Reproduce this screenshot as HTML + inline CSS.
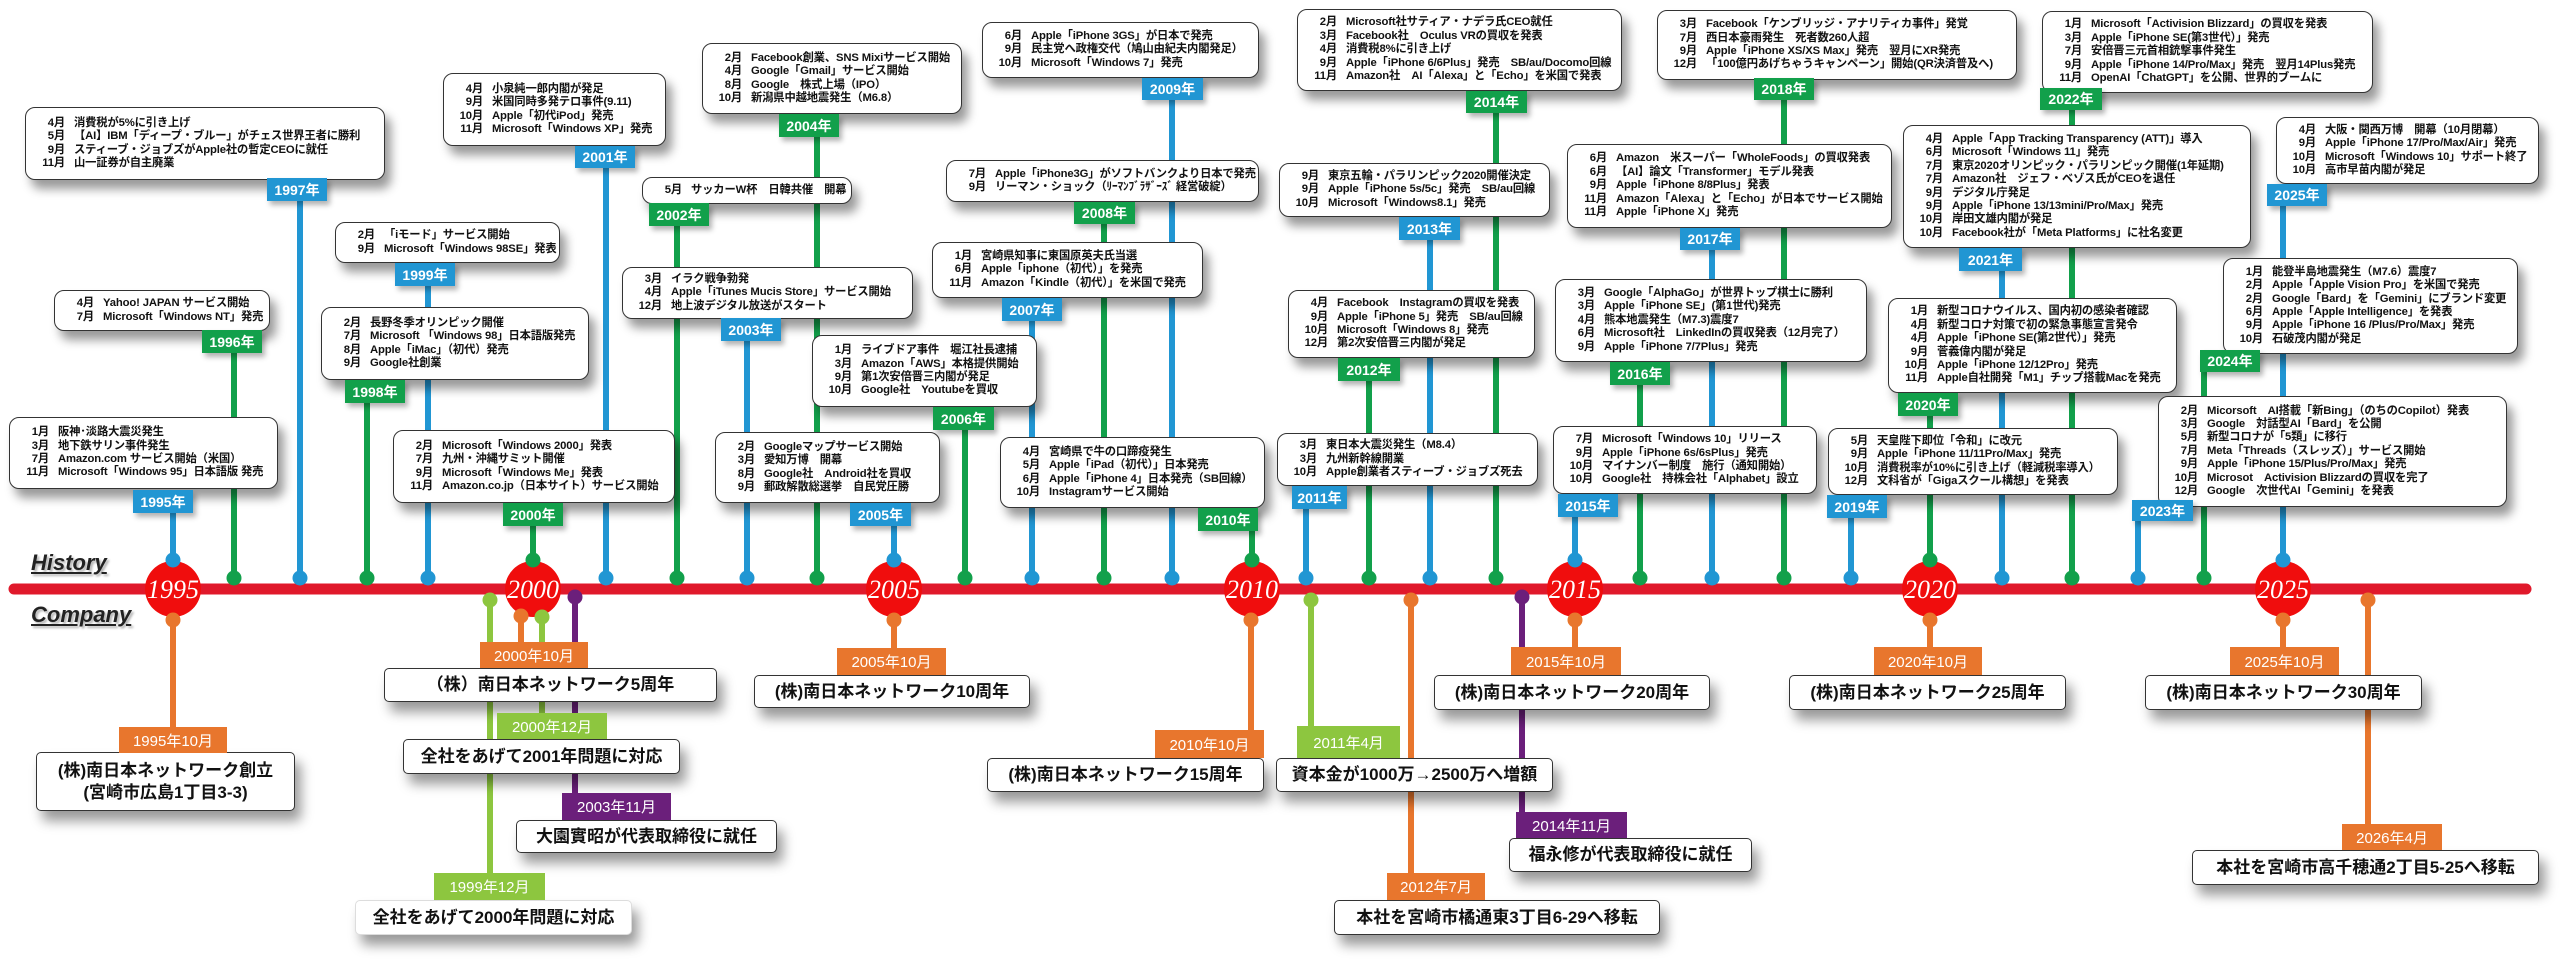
<!DOCTYPE html>
<html><head><meta charset="utf-8">
<style>
html,body{margin:0;padding:0;background:#fff;}
#w{position:relative;width:2560px;height:974px;overflow:hidden;background:#fff;}
svg{position:absolute;left:0;top:0;}
.b{position:absolute;background:#fff;border:1.5px solid #333;border-radius:10px;box-shadow:6px 9px 10px rgba(0,0,0,.4);display:flex;flex-direction:column;justify-content:center;font:bold 11.3px/13.4px "Liberation Sans","Noto Sans CJK JP",sans-serif;letter-spacing:-0.15px;color:#111;white-space:nowrap;box-sizing:border-box;padding-left:8px;overflow:hidden;}
.b span{display:inline-block;width:31px;text-align:right;margin-right:9px;}
.t{position:absolute;color:#fff;font:bold 14px "Liberation Sans","Noto Sans CJK JP",sans-serif;display:flex;align-items:center;justify-content:center;box-shadow:3px 4px 5px rgba(0,0,0,.3);}
.bl{background:#2196d3;}.gr{background:#12a04b;}
.c{position:absolute;background:#fff;border:1.5px solid #333;border-radius:5px;box-shadow:6px 10px 12px rgba(0,0,0,.4);display:flex;flex-direction:column;align-items:center;justify-content:center;font:bold 17px/22px "Liberation Sans","Noto Sans CJK JP",sans-serif;color:#111;white-space:nowrap;box-sizing:border-box;}
.ct{position:absolute;color:#fff;font:15px "Liberation Sans","Noto Sans CJK JP",sans-serif;display:flex;align-items:center;justify-content:center;}
.or{background:#e8762d;}.lg{background:#8dc63f;}.pu{background:#6b1f7b;}
.lab{position:absolute;font:bold italic 22px "Liberation Sans",sans-serif;text-decoration:underline;color:#222;text-shadow:2px 2px 2px rgba(0,0,0,.3);}
</style></head><body><div id="w">
<svg width="2560" height="974" viewBox="0 0 2560 974">
<g stroke-width="6">
<g stroke="#2196d3">
<line x1="173" y1="512" x2="173" y2="560"/><line x1="300" y1="200" x2="300" y2="578"/><line x1="428" y1="285" x2="428" y2="578"/><line x1="606" y1="167" x2="606" y2="578"/><line x1="747" y1="340" x2="747" y2="578"/><line x1="894" y1="525" x2="894" y2="560"/><line x1="1032" y1="320" x2="1032" y2="578"/><line x1="1172" y1="99" x2="1172" y2="578"/><line x1="1306" y1="508" x2="1306" y2="578"/><line x1="1430" y1="239" x2="1430" y2="578"/><line x1="1575" y1="516" x2="1575" y2="560"/><line x1="1712" y1="249" x2="1712" y2="578"/><line x1="1851" y1="517" x2="1851" y2="578"/><line x1="2002" y1="270" x2="2002" y2="578"/><line x1="2138" y1="519" x2="2138" y2="578"/><line x1="2283" y1="205" x2="2283" y2="560"/>
</g>
<g stroke="#12a04b">
<line x1="234" y1="352" x2="234" y2="578"/><line x1="367" y1="402" x2="367" y2="578"/><line x1="533" y1="525" x2="533" y2="560"/><line x1="677" y1="225" x2="677" y2="578"/><line x1="817" y1="136" x2="817" y2="578"/><line x1="965" y1="430" x2="965" y2="578"/><line x1="1104" y1="223" x2="1104" y2="578"/><line x1="1252" y1="530" x2="1252" y2="560"/><line x1="1369" y1="380" x2="1369" y2="578"/><line x1="1496" y1="112" x2="1496" y2="578"/><line x1="1640" y1="384" x2="1640" y2="578"/><line x1="1784" y1="99" x2="1784" y2="578"/><line x1="1930" y1="415" x2="1930" y2="560"/><line x1="2072" y1="109" x2="2072" y2="578"/><line x1="2204" y1="371" x2="2204" y2="578"/>
</g>
<g stroke="#e8762d">
<line x1="173" y1="620" x2="173" y2="728"/><line x1="521" y1="616" x2="521" y2="643"/><line x1="894" y1="620" x2="894" y2="649"/><line x1="1251" y1="620" x2="1251" y2="731"/><line x1="1411" y1="600" x2="1411" y2="874"/><line x1="1575" y1="620" x2="1575" y2="648"/><line x1="1930" y1="620" x2="1930" y2="648"/><line x1="2283" y1="620" x2="2283" y2="648"/><line x1="2368" y1="600" x2="2368" y2="825"/>
</g>
<g stroke="#8dc63f">
<line x1="490" y1="600" x2="490" y2="874"/><line x1="542" y1="617" x2="542" y2="714"/><line x1="1311" y1="600" x2="1311" y2="727"/>
</g>
<g stroke="#6b1f7b">
<line x1="575" y1="597" x2="575" y2="794"/><line x1="1522" y1="597" x2="1522" y2="813"/>
</g>
</g>
<line x1="14" y1="589" x2="2526" y2="589" stroke="#e0192b" stroke-width="11" stroke-linecap="round"/>
<g fill="#2196d3">
<circle cx="300" cy="578" r="7.5"/><circle cx="428" cy="578" r="7.5"/><circle cx="606" cy="578" r="7.5"/><circle cx="747" cy="578" r="7.5"/><circle cx="1032" cy="578" r="7.5"/><circle cx="1172" cy="578" r="7.5"/><circle cx="1306" cy="578" r="7.5"/><circle cx="1430" cy="578" r="7.5"/><circle cx="1712" cy="578" r="7.5"/><circle cx="1851" cy="578" r="7.5"/><circle cx="2002" cy="578" r="7.5"/><circle cx="2138" cy="578" r="7.5"/>
</g>
<g fill="#12a04b">
<circle cx="234" cy="578" r="7.5"/><circle cx="367" cy="578" r="7.5"/><circle cx="677" cy="578" r="7.5"/><circle cx="817" cy="578" r="7.5"/><circle cx="965" cy="578" r="7.5"/><circle cx="1104" cy="578" r="7.5"/><circle cx="1369" cy="578" r="7.5"/><circle cx="1496" cy="578" r="7.5"/><circle cx="1640" cy="578" r="7.5"/><circle cx="1784" cy="578" r="7.5"/><circle cx="2072" cy="578" r="7.5"/><circle cx="2204" cy="578" r="7.5"/>
</g>
<g fill="#f00d0d">
<circle cx="173" cy="589" r="28"/><circle cx="533" cy="589" r="28"/><circle cx="894" cy="589" r="28"/><circle cx="1252" cy="589" r="28"/><circle cx="1575" cy="589" r="28"/><circle cx="1930" cy="589" r="28"/><circle cx="2283" cy="589" r="28"/>
</g>
<g font-family="Liberation Serif,serif" font-style="italic" font-size="26" fill="#fff" text-anchor="middle">
<text x="173" y="598">1995</text><text x="533" y="598">2000</text><text x="894" y="598">2005</text><text x="1252" y="598">2010</text><text x="1575" y="598">2015</text><text x="1930" y="598">2020</text><text x="2283" y="598">2025</text>
</g>
<circle cx="173" cy="560" r="7.5" fill="#2196d3"/><circle cx="894" cy="560" r="7.5" fill="#2196d3"/><circle cx="1575" cy="560" r="7.5" fill="#2196d3"/><circle cx="2283" cy="560" r="7.5" fill="#2196d3"/>
<circle cx="533" cy="560" r="7.5" fill="#12a04b"/><circle cx="1252" cy="560" r="7.5" fill="#12a04b"/><circle cx="1930" cy="560" r="7.5" fill="#12a04b"/>
<g fill="#e8762d"><circle cx="173" cy="620" r="7.5"/><circle cx="521" cy="616" r="7.5"/><circle cx="894" cy="620" r="7.5"/><circle cx="1251" cy="620" r="7.5"/><circle cx="1411" cy="600" r="7.5"/><circle cx="1575" cy="620" r="7.5"/><circle cx="1930" cy="620" r="7.5"/><circle cx="2283" cy="620" r="7.5"/><circle cx="2368" cy="600" r="7.5"/></g>
<g fill="#8dc63f"><circle cx="490" cy="600" r="7.5"/><circle cx="542" cy="617" r="7.5"/><circle cx="1311" cy="600" r="7.5"/></g>
<g fill="#6b1f7b"><circle cx="575" cy="597" r="7.5"/><circle cx="1522" cy="597" r="7.5"/></g>
</svg>

<div class="lab" style="left:31px;top:550px">History</div>
<div class="lab" style="left:31px;top:602px">Company</div>

<div class="b" style="left:9px;top:417px;width:269px;height:72px"><div><span>1月</span>阪神･淡路大震災発生</div><div><span>3月</span>地下鉄サリン事件発生</div><div><span>7月</span>Amazon.com サービス開始（米国）</div><div><span>11月</span>Microsoft「Windows 95」日本語版 発売</div></div>
<div class="t bl" style="left:133px;top:490px;width:60px;height:23px">1995年</div>

<div class="b" style="left:54px;top:290px;width:216px;height:41px"><div><span>4月</span>Yahoo! JAPAN サービス開始</div><div><span>7月</span>Microsoft「Windows NT」発売</div></div>
<div class="t gr" style="left:202px;top:330px;width:60px;height:23px">1996年</div>

<div class="b" style="left:25px;top:107px;width:360px;height:73px"><div><span>4月</span>消費税が5%に引き上げ</div><div><span>5月</span>【AI】IBM「ディープ・ブルー」がチェス世界王者に勝利</div><div><span>9月</span>スティーブ・ジョブズがApple社の暫定CEOに就任</div><div><span>11月</span>山一証券が自主廃業</div></div>
<div class="t bl" style="left:267px;top:178px;width:60px;height:23px">1997年</div>

<div class="b" style="left:321px;top:307px;width:268px;height:73px"><div><span>2月</span>長野冬季オリンピック開催</div><div><span>7月</span>Microsoft 「Windows 98」日本語版発売</div><div><span>8月</span>Apple「iMac」（初代）発売</div><div><span>9月</span>Google社創業</div></div>
<div class="t gr" style="left:345px;top:380px;width:60px;height:23px">1998年</div>

<div class="b" style="left:335px;top:222px;width:225px;height:41px"><div><span>2月</span>「iモード」サービス開始</div><div><span>9月</span>Microsoft「Windows 98SE」発表</div></div>
<div class="t bl" style="left:395px;top:263px;width:60px;height:23px">1999年</div>

<div class="b" style="left:393px;top:430px;width:282px;height:73px"><div><span>2月</span>Microsoft「Windows 2000」発表</div><div><span>7月</span>九州・沖縄サミット開催</div><div><span>9月</span>Microsoft「Windows Me」発表</div><div><span>11月</span>Amazon.co.jp（日本サイト）サービス開始</div></div>
<div class="t gr" style="left:503px;top:503px;width:60px;height:23px">2000年</div>

<div class="b" style="left:443px;top:73px;width:223px;height:73px"><div><span>4月</span>小泉純一郎内閣が発足</div><div><span>9月</span>米国同時多発テロ事件(9.11)</div><div><span>10月</span>Apple「初代iPod」発売</div><div><span>11月</span>Microsoft「Windows XP」発売</div></div>
<div class="t bl" style="left:575px;top:146px;width:60px;height:22px">2001年</div>

<div class="b" style="left:642px;top:177px;width:210px;height:27px"><div><span>5月</span>サッカーW杯　日韓共催　開幕</div></div>
<div class="t gr" style="left:649px;top:203px;width:60px;height:23px">2002年</div>

<div class="b" style="left:622px;top:267px;width:291px;height:52px"><div><span>3月</span>イラク戦争勃発</div><div><span>4月</span>Apple「iTunes Mucis Store」サービス開始</div><div><span>12月</span>地上波デジタル放送がスタート</div></div>
<div class="t bl" style="left:721px;top:318px;width:60px;height:23px">2003年</div>

<div class="b" style="left:702px;top:43px;width:260px;height:71px"><div><span>2月</span>Facebook創業、SNS Mixiサービス開始</div><div><span>4月</span>Google「Gmail」サービス開始</div><div><span>8月</span>Google　株式上場（IPO）</div><div><span>10月</span>新潟県中越地震発生（M6.8）</div></div>
<div class="t gr" style="left:779px;top:114px;width:60px;height:23px">2004年</div>

<div class="b" style="left:715px;top:432px;width:225px;height:71px"><div><span>2月</span>Googleマップサービス開始</div><div><span>3月</span>愛知万博　開幕</div><div><span>8月</span>Google社　Android社を買収</div><div><span>9月</span>郵政解散総選挙　自民党圧勝</div></div>
<div class="t bl" style="left:850px;top:503px;width:61px;height:23px">2005年</div>

<div class="b" style="left:812px;top:335px;width:225px;height:72px"><div><span>1月</span>ライブドア事件　堀江社長逮捕</div><div><span>3月</span>Amazon「AWS」本格提供開始</div><div><span>9月</span>第1次安倍晋三内閣が発足</div><div><span>10月</span>Google社　Youtubeを買収</div></div>
<div class="t gr" style="left:933px;top:407px;width:61px;height:23px">2006年</div>

<div class="b" style="left:932px;top:242px;width:271px;height:56px"><div><span>1月</span>宮崎県知事に東国原英夫氏当選</div><div><span>6月</span>Apple「iphone（初代）」を発売</div><div><span>11月</span>Amazon「Kindle（初代）」を米国で発売</div></div>
<div class="t bl" style="left:1002px;top:298px;width:60px;height:23px">2007年</div>

<div class="b" style="left:946px;top:160px;width:313px;height:42px"><div><span>7月</span>Apple「iPhone3G」がソフトバンクより日本で発売</div><div><span>9月</span>リーマン・ショック（ﾘｰﾏﾝﾌﾞﾗｻﾞｰｽﾞ 経営破綻）</div></div>
<div class="t gr" style="left:1074px;top:202px;width:61px;height:22px">2008年</div>

<div class="b" style="left:982px;top:22px;width:277px;height:56px"><div><span>6月</span>Apple「iPhone 3GS」が日本で発売</div><div><span>9月</span>民主党へ政権交代（鳩山由紀夫内閣発足）</div><div><span>10月</span>Microsoft「Windows 7」発売</div></div>
<div class="t bl" style="left:1142px;top:78px;width:61px;height:22px">2009年</div>

<div class="b" style="left:1000px;top:437px;width:265px;height:71px"><div><span>4月</span>宮崎県で牛の口蹄疫発生</div><div><span>5月</span>Apple「iPad（初代）」日本発売</div><div><span>6月</span>Apple「iPhone 4」日本発売（SB回線）</div><div><span>10月</span>Instagramサービス開始</div></div>
<div class="t gr" style="left:1198px;top:508px;width:60px;height:23px">2010年</div>

<div class="b" style="left:1277px;top:433px;width:261px;height:53px"><div><span>3月</span>東日本大震災発生（M8.4）</div><div><span>3月</span>九州新幹線開業</div><div><span>10月</span>Apple創業者スティーブ・ジョブズ死去</div></div>
<div class="t bl" style="left:1292px;top:486px;width:55px;height:23px">2011年</div>

<div class="b" style="left:1288px;top:290px;width:247px;height:68px"><div><span>4月</span>Facebook　Instagramの買収を発表</div><div><span>9月</span>Apple「iPhone 5」発売　SB/au回線</div><div><span>10月</span>Microsoft「Windows 8」発売</div><div><span>12月</span>第2次安倍晋三内閣が発足</div></div>
<div class="t gr" style="left:1338px;top:358px;width:62px;height:23px">2012年</div>

<div class="b" style="left:1279px;top:163px;width:271px;height:54px"><div><span>9月</span>東京五輪・パラリンピック2020開催決定</div><div><span>9月</span>Apple「iPhone 5s/5c」発売　SB/au回線</div><div><span>10月</span>Microsoft「Windows8.1」発売</div></div>
<div class="t bl" style="left:1399px;top:217px;width:61px;height:23px">2013年</div>

<div class="b" style="left:1297px;top:9px;width:325px;height:82px"><div><span>2月</span>Microsoft社サティア・ナデラ氏CEO就任</div><div><span>3月</span>Facebook社　Oculus VRの買収を発表</div><div><span>4月</span>消費税8%に引き上げ</div><div><span>9月</span>Apple「iPhone 6/6Plus」発売　SB/au/Docomo回線</div><div><span>11月</span>Amazon社　AI「Alexa」と「Echo」を米国で発表</div></div>
<div class="t gr" style="left:1466px;top:91px;width:61px;height:22px">2014年</div>

<div class="b" style="left:1553px;top:426px;width:264px;height:68px"><div><span>7月</span>Microsoft「Windows 10」リリース</div><div><span>9月</span>Apple「iPhone 6s/6sPlus」発売</div><div><span>10月</span>マイナンバー制度　施行（通知開始）</div><div><span>10月</span>Google社　持株会社「Alphabet」設立</div></div>
<div class="t bl" style="left:1558px;top:494px;width:60px;height:23px">2015年</div>

<div class="b" style="left:1555px;top:279px;width:312px;height:83px"><div><span>3月</span>Google「AlphaGo」が世界トップ棋士に勝利</div><div><span>3月</span>Apple「iPhone SE」(第1世代)発売</div><div><span>4月</span>熊本地震発生（M7.3)震度7</div><div><span>6月</span>Microsoft社　LinkedInの買収発表（12月完了）</div><div><span>9月</span>Apple「iPhone 7/7Plus」発売</div></div>
<div class="t gr" style="left:1610px;top:362px;width:60px;height:23px">2016年</div>

<div class="b" style="left:1567px;top:144px;width:325px;height:84px"><div><span>6月</span>Amazon　米スーパー「WholeFoods」の買収発表</div><div><span>6月</span>【AI】論文「Transformer」モデル発表</div><div><span>9月</span>Apple「iPhone 8/8Plus」発表</div><div><span>11月</span>Amazon「Alexa」と「Echo」が日本でサービス開始</div><div><span>11月</span>Apple「iPhone X」発売</div></div>
<div class="t bl" style="left:1680px;top:228px;width:60px;height:22px">2017年</div>

<div class="b" style="left:1657px;top:10px;width:360px;height:70px"><div><span>3月</span>Facebook「ケンブリッジ・アナリティカ事件」発覚</div><div><span>7月</span>西日本豪雨発生　死者数260人超</div><div><span>9月</span>Apple「iPhone XS/XS Max」発売　翌月にXR発売</div><div><span>12月</span>「100億円あげちゃうキャンペーン」開始(QR決済普及へ)</div></div>
<div class="t gr" style="left:1754px;top:78px;width:60px;height:22px">2018年</div>

<div class="b" style="left:1828px;top:428px;width:290px;height:67px"><div><span>5月</span>天皇陛下即位「令和」に改元</div><div><span>9月</span>Apple「iPhone 11/11Pro/Max」発売</div><div><span>10月</span>消費税率が10%に引き上げ（軽減税率導入）</div><div><span>12月</span>文科省が「Gigaスクール構想」を発表</div></div>
<div class="t bl" style="left:1827px;top:495px;width:60px;height:23px">2019年</div>

<div class="b" style="left:1888px;top:298px;width:289px;height:95px"><div><span>1月</span>新型コロナウイルス、国内初の感染者確認</div><div><span>4月</span>新型コロナ対策で初の緊急事態宣言発令</div><div><span>4月</span>Apple「iPhone SE(第2世代）」発売</div><div><span>9月</span>菅義偉内閣が発足</div><div><span>10月</span>Apple「iPhone 12/12Pro」発売</div><div><span>11月</span>Apple自社開発「M1」チップ搭載Macを発売</div></div>
<div class="t gr" style="left:1898px;top:393px;width:60px;height:23px">2020年</div>

<div class="b" style="left:1903px;top:125px;width:348px;height:123px"><div><span>4月</span>Apple「App Tracking Transparency (ATT)」導入</div><div><span>6月</span>Microsoft「Windows 11」発売</div><div><span>7月</span>東京2020オリンピック・パラリンピック開催(1年延期)</div><div><span>7月</span>Amazon社　ジェフ・ベゾス氏がCEOを退任</div><div><span>9月</span>デジタル庁発足</div><div><span>9月</span>Apple「iPhone 13/13mini/Pro/Max」発売</div><div><span>10月</span>岸田文雄内閣が発足</div><div><span>10月</span>Facebook社が「Meta Platforms」に社名変更</div></div>
<div class="t bl" style="left:1959px;top:248px;width:63px;height:23px">2021年</div>

<div class="b" style="left:2042px;top:11px;width:331px;height:82px"><div><span>1月</span>Microsoft「Activision Blizzard」の買収を発表</div><div><span>3月</span>Apple「iPhone SE(第3世代）」発売</div><div><span>7月</span>安倍晋三元首相銃撃事件発生</div><div><span>9月</span>Apple「iPhone 14/Pro/Max」発売　翌月14Plus発売</div><div><span>11月</span>OpenAI「ChatGPT」を公開、世界的ブームに</div></div>
<div class="t gr" style="left:2040px;top:88px;width:62px;height:22px">2022年</div>

<div class="b" style="left:2158px;top:396px;width:349px;height:111px"><div><span>2月</span>Micorsoft　AI搭載「新Bing」（のちのCopilot）発表</div><div><span>3月</span>Google　対話型AI「Bard」を公開</div><div><span>5月</span>新型コロナが「5類」に移行</div><div><span>7月</span>Meta「Threads（スレッズ）」サービス開始</div><div><span>9月</span>Apple「iPhone 15/Plus/Pro/Max」発売</div><div><span>10月</span>Microsot　Activision Blizzardの買収を完了</div><div><span>12月</span>Google　次世代AI「Gemini」を発表</div></div>
<div class="t bl" style="left:2132px;top:500px;width:61px;height:21px">2023年</div>

<div class="b" style="left:2223px;top:258px;width:295px;height:96px"><div><span>1月</span>能登半島地震発生（M7.6）震度7</div><div><span>2月</span>Apple「Apple Vision Pro」を米国で発売</div><div><span>2月</span>Google「Bard」を「Gemini」にブランド変更</div><div><span>6月</span>Apple「Apple Intelligence」を発表</div><div><span>9月</span>Apple「iPhone 16 /Plus/Pro/Max」発売</div><div><span>10月</span>石破茂内閣が発足</div></div>
<div class="t gr" style="left:2200px;top:350px;width:60px;height:22px">2024年</div>

<div class="b" style="left:2276px;top:117px;width:263px;height:67px"><div><span>4月</span>大阪・関西万博　開幕（10月閉幕）</div><div><span>9月</span>Apple「iPhone 17/Pro/Max/Air」発売</div><div><span>10月</span>Microsoft「Windows 10」サポート終了</div><div><span>10月</span>高市早苗内閣が発足</div></div>
<div class="t bl" style="left:2267px;top:184px;width:60px;height:22px">2025年</div>

<div class="c" style="left:36px;top:752px;width:259px;height:59px"><div>(株)南日本ネットワーク創立</div><div>(宮崎市広島1丁目3-3)</div></div>
<div class="ct or" style="left:119px;top:727px;width:108px;height:26px">1995年10月</div>

<div class="c" style="left:384px;top:668px;width:333px;height:34px">（株）南日本ネットワーク5周年</div>
<div class="ct or" style="left:480px;top:642px;width:108px;height:26px">2000年10月</div>

<div class="c" style="left:403px;top:739px;width:277px;height:35px">全社をあげて2001年問題に対応</div>
<div class="ct lg" style="left:497px;top:713px;width:110px;height:26px">2000年12月</div>

<div class="c" style="left:516px;top:820px;width:261px;height:33px">大園實昭が代表取締役に就任</div>
<div class="ct pu" style="left:562px;top:793px;width:109px;height:27px">2003年11月</div>

<div class="c" style="left:355px;top:900px;width:277px;height:35px;border-color:#ddd">全社をあげて2000年問題に対応</div>
<div class="ct lg" style="left:434px;top:873px;width:111px;height:27px">1999年12月</div>

<div class="c" style="left:754px;top:675px;width:276px;height:33px">(株)南日本ネットワーク10周年</div>
<div class="ct or" style="left:837px;top:648px;width:109px;height:27px">2005年10月</div>

<div class="c" style="left:987px;top:758px;width:277px;height:34px">(株)南日本ネットワーク15周年</div>
<div class="ct or" style="left:1155px;top:730px;width:109px;height:28px">2010年10月</div>

<div class="c" style="left:1276px;top:758px;width:277px;height:34px">資本金が1000万→2500万へ増額</div>
<div class="ct lg" style="left:1297px;top:726px;width:103px;height:32px">2011年4月</div>

<div class="c" style="left:1334px;top:900px;width:326px;height:35px">本社を宮崎市橘通東3丁目6-29へ移転</div>
<div class="ct or" style="left:1387px;top:873px;width:98px;height:27px">2012年7月</div>

<div class="c" style="left:1509px;top:838px;width:243px;height:34px">福永修が代表取締役に就任</div>
<div class="ct pu" style="left:1516px;top:812px;width:111px;height:26px">2014年11月</div>

<div class="c" style="left:1434px;top:675px;width:276px;height:35px">(株)南日本ネットワーク20周年</div>
<div class="ct or" style="left:1511px;top:647px;width:110px;height:28px">2015年10月</div>

<div class="c" style="left:1789px;top:675px;width:277px;height:35px">(株)南日本ネットワーク25周年</div>
<div class="ct or" style="left:1874px;top:647px;width:108px;height:28px">2020年10月</div>

<div class="c" style="left:2145px;top:675px;width:277px;height:35px">(株)南日本ネットワーク30周年</div>
<div class="ct or" style="left:2230px;top:647px;width:109px;height:28px">2025年10月</div>

<div class="c" style="left:2192px;top:850px;width:347px;height:35px">本社を宮崎市高千穂通2丁目5-25へ移転</div>
<div class="ct or" style="left:2342px;top:824px;width:100px;height:26px">2026年4月</div>
</div></body></html>
